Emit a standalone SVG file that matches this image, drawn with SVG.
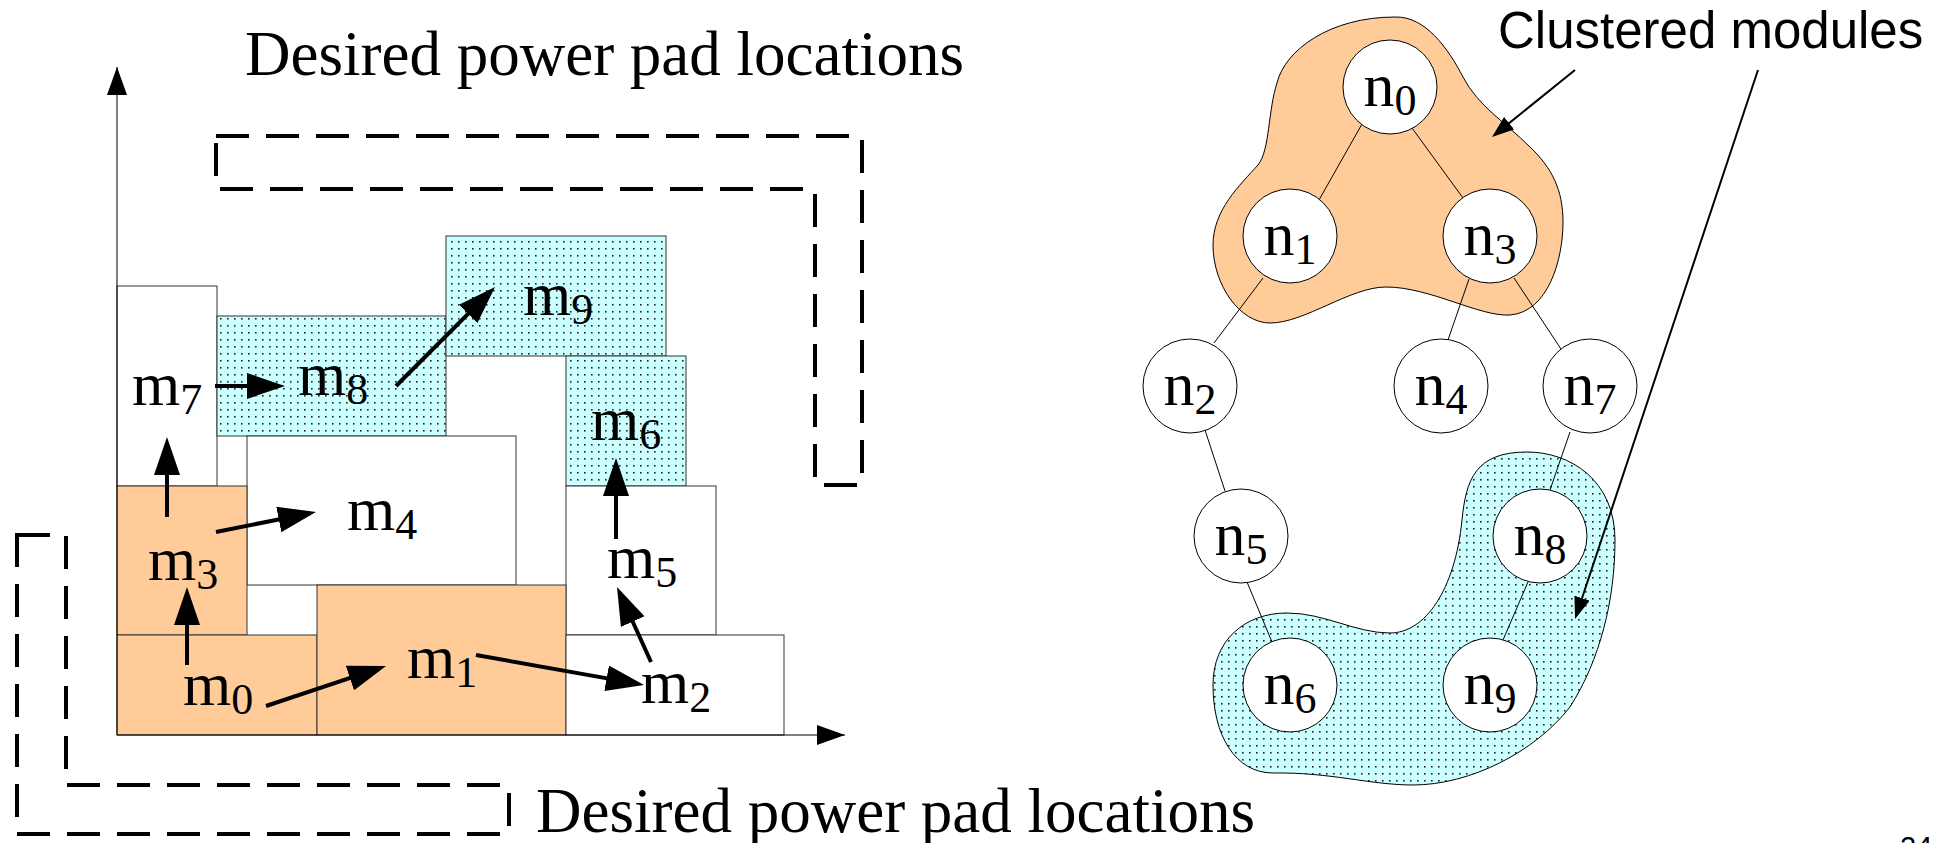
<svg xmlns="http://www.w3.org/2000/svg" width="1952" height="843" viewBox="0 0 1952 843">
  <defs>
    <style>
      .mod{stroke:#333;stroke-width:1}
      .white{fill:#fff}
      .orange{fill:#ffcc99}
      .cyan{fill:url(#dots)}
      .lbl{font-family:"Liberation Serif","Times New Roman",serif;font-size:62px;fill:#000}
      .sub{font-size:44px}
      .pad{fill:none;stroke:#000;stroke-width:4;stroke-dasharray:33 17}
      .arrow{stroke:#000;stroke-width:4;fill:none;marker-end:url(#head)}
      .axis{stroke:#000;stroke-width:1;fill:none;marker-end:url(#axhead)}
      .pointer{stroke:#000;stroke-width:2;fill:none;marker-end:url(#thin)}
      .edge{stroke:#000;stroke-width:1}
      .node circle{fill:#fff;stroke:#000;stroke-width:1}
      .title{font-family:"Liberation Serif","Times New Roman",serif;font-size:63px;fill:#000}
      .note{font-family:"Liberation Sans",Arial,sans-serif;font-size:51px;fill:#000}
      .blob{stroke:#000;stroke-width:1}
    </style>
    <pattern id="dots" width="7" height="7" patternUnits="userSpaceOnUse">
      <rect width="7" height="7" fill="#ccffff"/>
      <rect x="3" y="3" width="1.6" height="1.6" fill="#222"/>
    </pattern>
    <marker id="head" markerUnits="userSpaceOnUse" markerWidth="38" markerHeight="26" viewBox="0 0 38 26" refX="32" refY="13" orient="auto">
      <path d="M0,0 L38,13 L0,26 z" fill="#000"/>
    </marker>
    <marker id="axhead" markerUnits="userSpaceOnUse" markerWidth="28" markerHeight="20" viewBox="0 0 28 20" refX="28" refY="10" orient="auto">
      <path d="M0,0 L28,10 L0,20 z" fill="#000"/>
    </marker>
    <marker id="thin" markerUnits="userSpaceOnUse" markerWidth="22" markerHeight="16" viewBox="0 0 22 16" refX="19" refY="8" orient="auto">
      <path d="M0,0 L22,8 L0,16 z" fill="#000"/>
    </marker>
  </defs>

  <rect width="1952" height="843" fill="#fff"/>

  <!-- floorplan: module blocks -->
  <g id="m7"><rect class="mod white" x="117" y="286" width="100" height="200"/><text class="lbl" x="132" y="405">m<tspan class="sub" dy="9">7</tspan></text></g>
  <g id="m8"><rect class="mod cyan" x="217" y="316" width="229" height="120"/><text class="lbl" x="298" y="395">m<tspan class="sub" dy="9">8</tspan></text></g>
  <g id="m9"><rect class="mod cyan" x="446" y="236" width="220" height="120"/><text class="lbl" x="523" y="315">m<tspan class="sub" dy="9">9</tspan></text></g>
  <g id="m4"><rect class="mod white" x="247" y="436" width="269" height="149"/><text class="lbl" x="347" y="530">m<tspan class="sub" dy="9">4</tspan></text></g>
  <g id="m6"><rect class="mod cyan" x="566" y="356" width="120" height="130"/><text class="lbl" x="591" y="440">m<tspan class="sub" dy="9">6</tspan></text></g>
  <g id="m5"><rect class="mod white" x="566" y="486" width="150" height="149"/><text class="lbl" x="607" y="578">m<tspan class="sub" dy="9">5</tspan></text></g>
  <g id="m3"><rect class="mod orange" x="117" y="486" width="130" height="149"/><text class="lbl" x="148" y="580">m<tspan class="sub" dy="9">3</tspan></text></g>
  <g id="m0"><rect class="mod orange" x="117" y="635" width="200" height="100"/><text class="lbl" x="183" y="705">m<tspan class="sub" dy="9">0</tspan></text></g>
  <g id="m1"><rect class="mod orange" x="317" y="585" width="249" height="150"/><text class="lbl" x="407" y="678">m<tspan class="sub" dy="9">1</tspan></text></g>
  <g id="m2"><rect class="mod white" x="566" y="635" width="218" height="100"/><text class="lbl" x="641" y="703">m<tspan class="sub" dy="9">2</tspan></text></g>

  <!-- axes -->
  <g id="axes">
    <line class="axis" x1="117" y1="735" x2="117" y2="67"/>
    <line class="axis" x1="117" y1="735" x2="845" y2="735"/>
  </g>

  <!-- desired power pad regions -->
  <g id="pads">
    <path class="pad" d="M216,136 H862 V485 H815 V189 H216 Z"/>
    <path class="pad" d="M17,535 H66 V785 H509 V834 H17 Z"/>
    <text class="title" x="245" y="75">Desired power pad locations</text>
    <text class="title" x="536" y="832">Desired power pad locations</text>
  </g>

  <!-- clusters of the tree -->
  <g id="cluster-top">
    <path class="blob orange" d="M1395,17 C1425,16 1448,48 1463,77 C1478,106 1505,122 1530,147 C1552,168 1563,190 1563,222 C1563,260 1548,312 1510,315 C1480,317 1430,287 1386,287 C1350,287 1305,323 1270,323 C1240,323 1213,285 1213,245 C1213,210 1240,185 1258,165 C1270,150 1268,110 1277,83 C1285,50 1330,17 1395,17 Z"/>
  </g>
  <g id="cluster-bottom">
    <path class="blob cyan" d="M1527,452 C1570,452 1615,480 1615,540 C1615,600 1600,660 1570,707 C1535,752 1470,785 1413,785 C1370,785 1330,772 1273,773 C1235,773 1213,735 1213,685 C1213,640 1245,613 1287,613 C1325,613 1355,633 1390,633 C1425,633 1455,590 1462,520 C1466,480 1475,452 1527,452 Z"/>
  </g>

  <!-- connectors -->
  <g id="connectors">
    <line class="arrow" x1="187" y1="665" x2="187" y2="593"/>
    <line class="arrow" x1="167" y1="517" x2="167" y2="443"/>
    <line class="arrow" x1="216" y1="532" x2="310.1" y2="513.2"/>
    <line class="arrow" x1="266" y1="706" x2="380.3" y2="667.9"/>
    <line class="arrow" x1="476" y1="655" x2="638.1" y2="683.9"/>
    <line class="arrow" x1="651" y1="662" x2="619.5" y2="592.5"/>
    <line class="arrow" x1="616" y1="539" x2="616" y2="464"/>
    <line class="arrow" x1="215" y1="386" x2="279" y2="386"/>
    <line class="arrow" x1="396" y1="386" x2="490.8" y2="291.2"/>

    <line class="edge" x1="1362" y1="124" x2="1319" y2="200"/>
    <line class="edge" x1="1412" y1="128" x2="1463" y2="198"/>
    <line class="edge" x1="1263" y1="278" x2="1214" y2="343"/>
    <line class="edge" x1="1469" y1="279" x2="1448" y2="340"/>
    <line class="edge" x1="1514" y1="278" x2="1561" y2="349"/>
    <line class="edge" x1="1205" y1="430" x2="1225" y2="491"/>
    <line class="edge" x1="1247" y1="582" x2="1272" y2="642"/>
    <line class="edge" x1="1570" y1="432" x2="1550" y2="490"/>
    <line class="edge" x1="1528" y1="582" x2="1503" y2="640"/>

    <line class="pointer" x1="1575" y1="70" x2="1494.3" y2="135.1"/>
    <line class="pointer" x1="1758" y1="70" x2="1576" y2="616.2"/>
  </g>

  <!-- tree nodes -->
  <g id="n0" class="node"><circle cx="1390" cy="87" r="47"/><text class="lbl" x="1390" y="106" text-anchor="middle">n<tspan class="sub" dy="9">0</tspan></text></g>
  <g id="n1" class="node"><circle cx="1290" cy="236" r="47"/><text class="lbl" x="1290" y="255" text-anchor="middle">n<tspan class="sub" dy="9">1</tspan></text></g>
  <g id="n3" class="node"><circle cx="1490" cy="236" r="47"/><text class="lbl" x="1490" y="255" text-anchor="middle">n<tspan class="sub" dy="9">3</tspan></text></g>
  <g id="n2" class="node"><circle cx="1190" cy="386" r="47"/><text class="lbl" x="1190" y="405" text-anchor="middle">n<tspan class="sub" dy="9">2</tspan></text></g>
  <g id="n4" class="node"><circle cx="1441" cy="386" r="47"/><text class="lbl" x="1441" y="405" text-anchor="middle">n<tspan class="sub" dy="9">4</tspan></text></g>
  <g id="n7" class="node"><circle cx="1590" cy="386" r="47"/><text class="lbl" x="1590" y="405" text-anchor="middle">n<tspan class="sub" dy="9">7</tspan></text></g>
  <g id="n5" class="node"><circle cx="1241" cy="536" r="47"/><text class="lbl" x="1241" y="555" text-anchor="middle">n<tspan class="sub" dy="9">5</tspan></text></g>
  <g id="n8" class="node"><circle cx="1540" cy="536" r="47"/><text class="lbl" x="1540" y="555" text-anchor="middle">n<tspan class="sub" dy="9">8</tspan></text></g>
  <g id="n6" class="node"><circle cx="1290" cy="685" r="47"/><text class="lbl" x="1290" y="704" text-anchor="middle">n<tspan class="sub" dy="9">6</tspan></text></g>
  <g id="n9" class="node"><circle cx="1490" cy="685" r="47"/><text class="lbl" x="1490" y="704" text-anchor="middle">n<tspan class="sub" dy="9">9</tspan></text></g>

  <g id="caption">
    <text class="note" x="1498" y="48">Clustered modules</text>
    <text x="1900" y="857" font-family="Liberation Sans, Arial, sans-serif" font-size="29" fill="#000">24</text>
  </g>
</svg>
